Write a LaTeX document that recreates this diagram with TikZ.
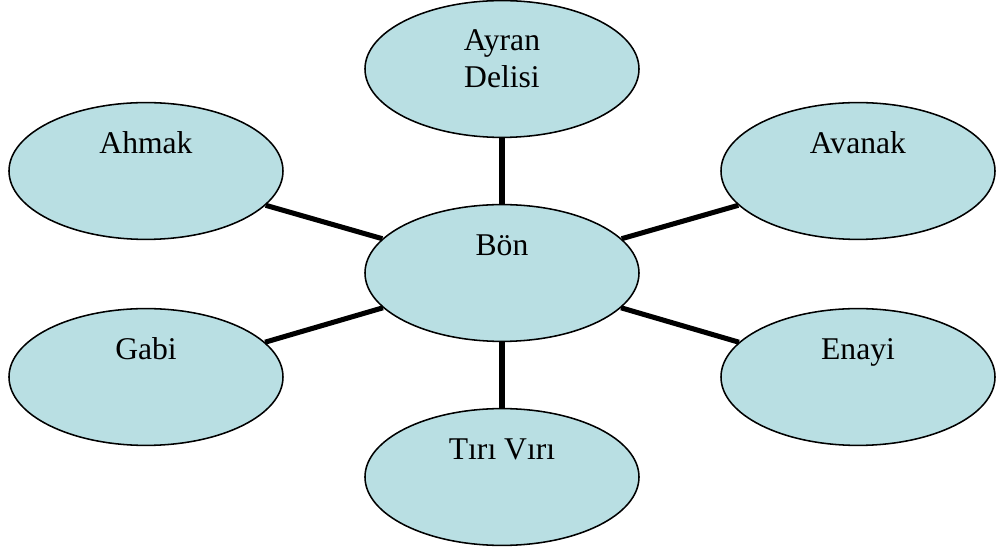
\documentclass[tikz,border=0pt]{standalone}
\usepackage{fontspec}
\setmainfont{Liberation Serif}
\usetikzlibrary{shapes.geometric,positioning}
\definecolor{bubblefill}{RGB}{185,223,227}

\begin{document}
\begin{tikzpicture}[
    node distance=5.1cm,
    on grid,
    bubble/.style={ellipse, draw, line width=1.1pt, fill=bubblefill, minimum width=6.85cm, minimum height=3.42cm, inner sep=0pt, align=center, font=\fontsize{22.5pt}{27pt}\selectfont, text height=0.5cm, text depth=1.375cm},
    line/.style={draw, line width=3.6pt}
]
    \useasboundingbox (-12.55,-6.95) rectangle (12.45,6.825);
    % Nodes
    \node [bubble] (bon) {Bön};
    \node [bubble, above=of bon, text height=1.45cm, text depth=0.5cm] (ayran) {Ayran\\Delisi};
    \node [bubble, below=of bon] (tiri) {Tırı Vırı};
    \node [bubble, above left=2.55cm and 8.9cm of bon] (ahmak) {Ahmak};
    \node [bubble, above right=2.55cm and 8.9cm of bon] (avanak) {Avanak};
    \node [bubble, below left=2.6cm and 8.9cm of bon] (gabi) {Gabi};
    \node [bubble, below right=2.6cm and 8.9cm of bon] (enayi) {Enayi};

    % Paths
    \path [line] (ayran) -- (bon);
    \path [line] (tiri) -- (bon);
    \path [line] (ahmak) -- (bon);
    \path [line] (avanak) -- (bon);
    \path [line] (gabi) -- (bon);
    \path [line] (enayi) -- (bon);

\end{tikzpicture}
\end{document}
